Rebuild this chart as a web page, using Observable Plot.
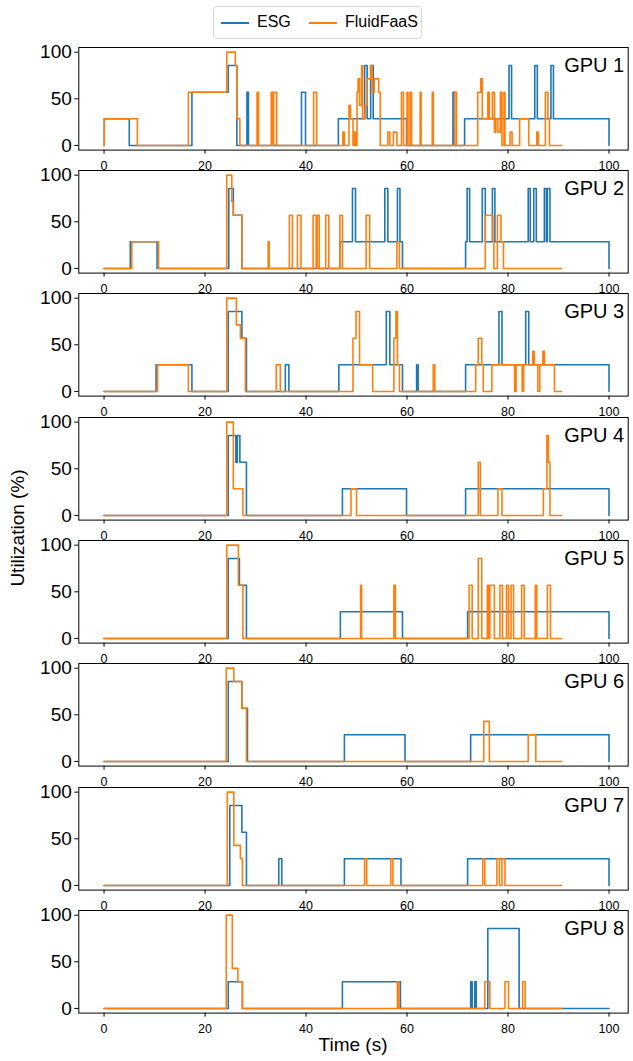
<!DOCTYPE html>
<html><head><meta charset="utf-8">
<script src="https://cdn.jsdelivr.net/npm/d3@7"></script>
<script src="https://cdn.jsdelivr.net/npm/@observablehq/plot@0.6"></script>
<style>
body{margin:0;background:#fff;font-family:"Liberation Sans",Arial,sans-serif;}
#root{position:relative;width:633px;height:1061px;overflow:hidden;background:#fff;}
.panel{position:absolute;left:0;}
.panel svg{overflow:visible;}
</style></head><body><div id="root"></div>
<script>
const gpuLabels = ["GPU 1","GPU 2","GPU 3","GPU 4","GPU 5","GPU 6","GPU 7","GPU 8"];
const seriesNames = ["ESG","FluidFaaS"];
const seriesColors = ["#1f77b4","#ff7f0e"];
const xTicks = [0,20,40,60,80,100];
const yTicks = [0,50,100];

// [time (s), utilization (%)] change points, step-after
const esg1 = [[0,0],[0.05,28.6],[5.0,0],[17.4,57.1],[24.6,85.7],[26.3,0],[28.3,57.1],[28.6,0],[39.1,57.1],[39.9,0],[46.4,28.6],[51.6,85.7],[52.1,28.6],[52.8,85.7],[53.3,28.6],[59.9,0],[69.1,57.1],[69.4,0],[71.4,28.6],[80.2,85.7],[80.7,28.6],[85.3,85.7],[85.8,28.6],[88.5,85.7],[89.0,28.6],[100,0]];
const ffs1 = [[0,0],[0.05,28.6],[6.6,0],[16.7,57.1],[24.3,100],[26.0,85.7],[26.3,28.6],[26.9,0],[30.3,57.1],[30.6,0],[33.1,57.1],[33.4,0],[33.6,57.1],[34.2,0],[41.5,57.1],[42.1,0],[47.3,14.3],[47.6,0],[48.5,42.9],[48.8,28.6],[49.3,0],[49.5,14.3],[49.8,0],[50.1,57.1],[50.3,71.4],[50.6,42.9],[51.0,85.7],[51.2,28.6],[51.7,42.9],[52.1,71.4],[52.8,85.7],[53.1,57.1],[53.5,71.4],[54.4,57.1],[54.7,0],[56.2,14.3],[56.6,0],[57.3,14.3],[58.0,0],[58.9,57.1],[59.3,0],[60.0,57.1],[60.2,0],[60.6,57.1],[60.9,0],[62.6,57.1],[62.8,0],[65.0,57.1],[65.2,0],[69.4,57.1],[69.8,0],[74.0,57.1],[74.6,71.4],[74.9,28.6],[76.0,57.1],[76.3,28.6],[76.9,57.1],[77.3,14.3],[77.6,28.6],[78.0,14.3],[78.5,57.1],[78.8,0],[79.2,57.1],[79.4,0],[80.4,14.3],[80.8,0],[82.3,28.6],[84.1,0],[85.7,14.3],[86.0,0],[87.4,57.1],[87.9,28.6],[88.2,0],[90.6,0]];

const esg2 = [[0,0],[5.2,28.6],[10.5,0],[24.7,85.7],[25.6,57.1],[27.3,0],[46.7,28.6],[49.2,85.7],[49.8,28.6],[55.6,85.7],[56.2,28.6],[58.1,85.7],[58.6,28.6],[59.1,0],[71.6,28.6],[71.9,85.7],[72.4,28.6],[74.9,85.7],[75.5,28.6],[76.9,85.7],[77.4,28.6],[84.0,85.7],[84.4,28.6],[85.1,85.7],[85.6,28.6],[87.2,85.7],[87.6,28.6],[87.8,85.7],[88.3,28.6],[100,0]];
const ffs2 = [[0,0],[5.5,28.6],[10.8,0],[24.3,100],[25.3,71.4],[25.6,57.1],[27.3,0],[32.5,28.6],[32.7,0],[36.7,57.1],[37.3,0],[38.3,57.1],[39.0,0],[41.4,57.1],[42.0,0],[42.2,57.1],[42.6,0],[43.9,57.1],[44.5,0],[46.7,57.1],[47.2,0],[51.9,57.1],[52.6,0],[58.0,28.6],[58.5,0],[75.5,57.1],[77.0,28.6],[77.2,0],[77.9,57.1],[78.6,28.6],[79.1,0],[90.6,0]];

const esg3 = [[0,0],[10.3,28.6],[17.4,0],[24.6,85.7],[27.3,57.1],[28.2,0],[35.9,28.6],[36.6,0],[46.5,28.6],[55.9,85.7],[56.6,28.6],[59.1,0],[61.9,28.6],[62.2,0],[71.6,28.6],[78.2,85.7],[78.8,28.6],[83.5,85.7],[84.1,28.6],[100,0]];
const ffs3 = [[0,0],[10.6,28.6],[16.7,0],[24.3,100],[26.2,71.4],[27.0,57.1],[28.0,0],[34.1,28.6],[34.9,0],[49.3,57.1],[49.9,85.7],[50.6,28.6],[53.2,0],[57.4,57.1],[57.8,85.7],[58.1,28.6],[58.5,0],[65.2,28.6],[65.5,0],[73.6,28.6],[74.1,57.1],[74.8,28.6],[75.1,0],[76.8,28.6],[81.3,0],[81.6,28.6],[82.8,0],[83.1,28.6],[84.9,42.9],[85.2,28.6],[85.9,0],[86.3,28.6],[86.9,42.9],[87.2,28.6],[89.2,0],[90.6,0]];

const esg4 = [[0,0],[24.6,85.7],[26.1,57.1],[26.4,85.7],[26.9,57.1],[28.2,0],[47.2,28.6],[59.9,0],[71.6,28.6],[100,0]];
const ffs4 = [[0,0],[24.3,100],[25.6,28.6],[27.5,0],[48.9,28.6],[50.0,0],[74.1,57.1],[74.5,0],[78.0,28.6],[78.8,0],[87.0,28.6],[87.7,85.7],[88.0,57.1],[88.3,0],[90.6,0]];

const esg5 = [[0,0],[24.6,85.7],[26.8,57.1],[28.2,0],[46.8,28.6],[59.1,0],[72.0,28.6],[100,0]];
const ffs5 = [[0,0],[24.3,100],[26.6,57.1],[27.5,0],[50.8,57.1],[51.0,0],[57.4,57.1],[57.7,0],[72.3,57.1],[72.9,0],[74.1,85.7],[74.8,0],[75.9,57.1],[76.2,0],[76.4,57.1],[77.3,0],[78.4,57.1],[78.9,0],[79.7,57.1],[80.1,0],[80.6,57.1],[81.1,0],[82.7,57.1],[83.2,0],[85.4,57.1],[85.7,0],[87.8,57.1],[88.4,0],[90.6,0]];

const esg6 = [[0,0],[24.6,85.7],[27.3,57.1],[28.4,0],[47.6,28.6],[59.6,0],[72.6,28.6],[100,0]];
const ffs6 = [[0,0],[24.2,100],[25.7,85.7],[27.3,57.1],[28.2,0],[75.2,42.9],[76.3,0],[84.0,28.6],[85.5,0],[90.6,0]];

const esg7 = [[0,0],[24.9,85.7],[27.3,57.1],[28.2,0],[34.6,28.6],[35.2,0],[47.6,28.6],[58.8,0],[72.0,28.6],[100,0]];
const ffs7 = [[0,0],[24.4,100],[25.7,42.9],[27.0,28.6],[27.4,0],[51.6,28.6],[52.0,0],[56.8,28.6],[57.2,0],[75.0,28.6],[75.4,0],[77.8,28.6],[78.3,0],[78.8,28.6],[79.4,0],[90.6,0]];

const esg8 = [[0,0],[24.6,28.6],[27.4,0],[47.2,28.6],[58.7,0],[72.6,28.6],[72.9,0],[73.4,28.6],[73.7,0],[76.0,85.7],[82.2,0],[100,0]];
const ffs8 = [[0,0],[24.2,100],[25.4,42.9],[26.5,28.6],[27.4,0],[58.1,28.6],[58.4,0],[75.4,28.6],[76.4,0],[79.4,28.6],[80.1,0],[82.9,28.6],[83.4,0],[90.6,0]];

const esgSeries = [esg1,esg2,esg3,esg4,esg5,esg6,esg7,esg8];
const ffsSeries = [ffs1,ffs2,ffs3,ffs4,ffs5,ffs6,ffs7,ffs8];

const root = document.getElementById("root");
const FONT = "Liberation Sans, Arial, sans-serif";

// legend (centered on the figure)
const leg = document.createElement("div");
leg.style.cssText = "position:absolute;left:213px;top:6px;width:207px;height:31px;border:1px solid #d6d6d6;border-radius:4px;background:#fff;";
root.appendChild(leg);
const legItems = [{x:220, tx:256}, {x:308, tx:344}];
seriesNames.forEach((name, k) => {
  const sw = document.createElement("div");
  sw.style.cssText = `position:absolute;left:${legItems[k].x-213}px;top:15px;width:28px;height:0;border-top:2px solid ${seriesColors[k]};`;
  leg.appendChild(sw);
  const tx = document.createElement("div");
  tx.textContent = name;
  tx.style.cssText = `position:absolute;left:${legItems[k].tx-213}px;top:5.5px;font:16px ${FONT};color:#000;white-space:nowrap;`;
  leg.appendChild(tx);
});

for (let i = 0; i < 8; i++) {
  const esgRows = esgSeries[i].map(([t, v]) => ({t, v}));
  const ffsRows = ffsSeries[i].map(([t, v]) => ({t, v}));
  const svg = Plot.plot({
    width: 633, height: 123,
    marginLeft: 78.3, marginRight: 5.3, marginTop: 10, marginBottom: 10.4,
    style: {background: "transparent", overflow: "visible", fontFamily: FONT, color: "#000"},
    x: {domain: [-5, 103.8]},
    y: {domain: [-5, 105]},
    marks: [
      Plot.axisX({ticks: xTicks, tickSize: 4, tickPadding: 7, fontSize: 12.5, label: null, tickFormat: d => d}),
      Plot.axisY({ticks: yTicks, tickSize: 4, tickPadding: 3, fontSize: 19, label: null, tickFormat: d => d}),
      Plot.line(esgRows, {x: "t", y: "v", curve: "step-after", stroke: seriesColors[0], strokeWidth: 1.6}),
      Plot.line(ffsRows, {x: "t", y: "v", curve: "step-after", stroke: seriesColors[1], strokeWidth: 1.6}),
      Plot.frame({stroke: "#000", strokeWidth: 1}),
      Plot.text([gpuLabels[i]], {frameAnchor: "top-right", text: d => d, dx: -4, dy: 10, lineAnchor: "top", textAnchor: "end", fontSize: 20})
    ]
  });
  const wrap = document.createElement("div");
  wrap.className = "panel";
  wrap.style.top = (36.7 + 123.3 * i) + "px";
  wrap.appendChild(svg);
  root.appendChild(wrap);
}

// axis titles
const yl = document.createElement("div");
yl.textContent = "Utilization (%)";
yl.style.cssText = `position:absolute;left:18px;top:528px;transform:translate(-50%,-50%) rotate(-90deg);font:19px ${FONT};white-space:nowrap;color:#000;`;
root.appendChild(yl);
const xl = document.createElement("div");
xl.textContent = "Time (s)";
xl.style.cssText = `position:absolute;left:353px;top:1045px;transform:translate(-50%,-50%);font:19px ${FONT};white-space:nowrap;color:#000;`;
root.appendChild(xl);
</script></body></html>
